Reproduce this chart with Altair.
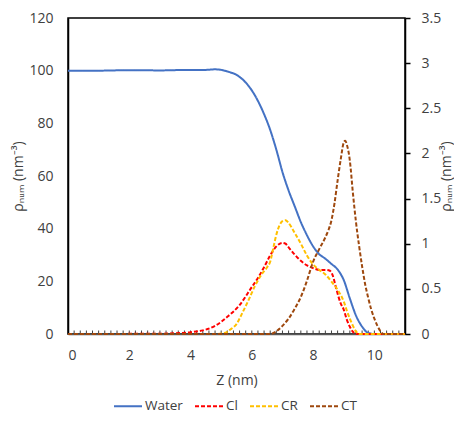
import altair as alt
import pandas as pd

# ---- data ----
water_z = [0, 1, 2, 3, 4, 4.5, 4.8, 5.0, 5.2, 5.5, 5.8, 6.0, 6.2, 6.4, 6.6, 6.8, 7.0, 7.2, 7.4,
           7.6, 7.8, 8.0, 8.2, 8.4, 8.6, 8.8, 9.0, 9.2, 9.4, 9.6, 9.8, 10.0, 10.5, 11]
water_v = [100, 100, 100.2, 100.1, 100.3, 100.3, 100.5, 100.3, 99.7, 98.4, 95.5, 92.5, 88.5, 83.5,
           77.5, 70, 61.5, 54.5, 48.5, 42.5, 37.5, 33.3, 30.3, 28.6, 26.6, 24.5, 20.5, 13.5, 7, 2.8,
           0.4, 0, 0, 0]

cl_z = [0, 3.0, 3.5, 4.0, 4.4, 4.8, 5.2, 5.6, 6.0, 6.2, 6.4, 6.6, 6.8, 7.0, 7.1, 7.2, 7.4, 7.6,
        7.8, 8.0, 8.2, 8.4, 8.55, 8.65, 8.75, 8.9, 9.0, 9.1, 9.2, 9.3, 9.4, 11]
cl_v = [0, 0.003, 0.008, 0.02, 0.04, 0.09, 0.19, 0.32, 0.52, 0.62, 0.74, 0.87, 0.97, 1.01, 1.0,
        0.96, 0.88, 0.81, 0.76, 0.73, 0.71, 0.71, 0.70, 0.64, 0.51, 0.34, 0.27, 0.16, 0.08, 0.025,
        0, 0]

cr_z = [0, 4.8, 5.1, 5.3, 5.5, 5.7, 5.9, 6.1, 6.3, 6.5, 6.6, 6.7, 6.8, 6.9, 7.0, 7.1, 7.2, 7.4,
        7.6, 7.8, 8.0, 8.2, 8.4, 8.6, 8.8, 9.0, 9.1, 9.2, 9.3, 9.4, 9.5, 11]
cr_v = [0, 0, 0.01, 0.05, 0.11, 0.24, 0.38, 0.53, 0.65, 0.74, 0.80, 0.95, 1.1, 1.2, 1.25, 1.26,
        1.23, 1.12, 1.0, 0.87, 0.77, 0.71, 0.66, 0.58, 0.49, 0.36, 0.26, 0.17, 0.09, 0.03, 0, 0]

ct_z = [0, 6.6, 6.8, 7.0, 7.2, 7.4, 7.6, 7.8, 8.0, 8.2, 8.4, 8.5, 8.6, 8.7, 8.8, 8.9, 9.0, 9.05,
        9.1, 9.2, 9.3, 9.4, 9.5, 9.6, 9.7, 9.8, 9.9, 10.0, 10.1, 10.2, 10.3, 11]
ct_v = [0, 0, 0.03, 0.09, 0.17, 0.28, 0.41, 0.59, 0.8, 0.94, 1.07, 1.15, 1.26, 1.45, 1.7, 1.93,
        2.12, 2.14, 2.1, 1.92, 1.56, 1.24, 0.98, 0.75, 0.55, 0.4, 0.27, 0.17, 0.09, 0.03, 0, 0]

series_names = ["Water", "Cl", "CR", "CT"]
series_colors = ["#4472C4", "#FF0000", "#FFC000", "#9E480E"]
x_labels = [0, 2, 4, 6, 8, 10]
left_ticks = [0, 20, 40, 60, 80, 100, 120]
right_ticks = [0, 0.5, 1, 1.5, 2, 2.5, 3, 3.5]
minor_x = [round(i * 0.2, 1) for i in range(1, 55)]

# ---- tables ----
water_df = pd.DataFrame({"z": water_z, "v": water_v, "series": "Water"})
right_df = pd.concat([
    pd.DataFrame({"z": cl_z, "v": cl_v, "series": "Cl"}),
    pd.DataFrame({"z": cr_z, "v": cr_v, "series": "CR"}),
    pd.DataFrame({"z": ct_z, "v": ct_v, "series": "CT"}),
], ignore_index=True)
minor_df = pd.DataFrame({"z": minor_x})

W, H = 337, 316
TXT = "#404040"
YTITLE = "ρₙᵤₘ (nm⁻³)"
FS = 14

x_enc = alt.X("z:Q", scale=alt.Scale(domain=[0, 11], nice=False, zero=False),
              axis=alt.Axis(values=x_labels, title="Z (nm)", ticks=False, grid=False,
                            domainColor="#595959", domainWidth=1.5, labelPadding=14,
                            titlePadding=11))
color_enc = alt.Color("series:N", scale=alt.Scale(domain=series_names, range=series_colors),
                      legend=alt.Legend(title=None))
dash_enc = alt.StrokeDash("series:N",
                          scale=alt.Scale(domain=series_names,
                                          range=[[1, 0], [4, 2], [4, 2], [4, 2]]),
                          legend=alt.Legend(title=None))

minor = alt.Chart(minor_df).mark_rule(color="#404040", strokeWidth=1).encode(
    x=x_enc, y=alt.value(H), y2=alt.value(H - 3.5))

left = alt.Chart(water_df).mark_line(strokeWidth=2, interpolate="monotone").encode(
    x=x_enc,
    y=alt.Y("v:Q", scale=alt.Scale(domain=[0, 120], nice=False),
            axis=alt.Axis(values=left_ticks, title=YTITLE, ticks=False, grid=False,
                          domainColor="black", domainWidth=1.5, labelPadding=15,
                          titlePadding=3)),
    color=color_enc, strokeDash=dash_enc, order=alt.Order("z:Q"))

right = alt.Chart(right_df).mark_line(strokeWidth=2, interpolate="monotone").encode(
    x=x_enc,
    y=alt.Y("v:Q", scale=alt.Scale(domain=[0, 3.5], nice=False),
            axis=alt.Axis(values=right_ticks, format="~g", orient="right", title=YTITLE,
                          ticks=True, tickSize=5, tickColor="black", tickWidth=1.5,
                          grid=False, domainColor="black", domainWidth=1.5,
                          labelPadding=11, titlePadding=13, titleAngle=270)),
    color=color_enc, strokeDash=dash_enc, order=alt.Order("z:Q"))

chart = alt.layer(minor, left, right).resolve_scale(y="independent").properties(
    width=W, height=H,
    autosize=alt.AutoSizeParams(type="none"),
    padding={"left": 60, "top": 10, "right": 49, "bottom": 81},
).configure(font="Open Sans").configure_view(
    stroke="black", strokeWidth=1.5
).configure_axis(
    labelFontSize=FS, labelColor=TXT, titleFontSize=FS, titleColor=TXT,
    titleFontWeight="normal", labelFont="Open Sans", titleFont="Open Sans"
).configure_legend(
    orient="none", legendX=45, legendY=373, direction="horizontal",
    symbolType="stroke", symbolSize=784, symbolStrokeWidth=2,
    labelFontSize=13.5, labelColor=TXT, labelFont="Open Sans",
    columnPadding=8, labelOffset=2
)

chart.save("out.html", embed_options={"renderer": "svg", "actions": False})
